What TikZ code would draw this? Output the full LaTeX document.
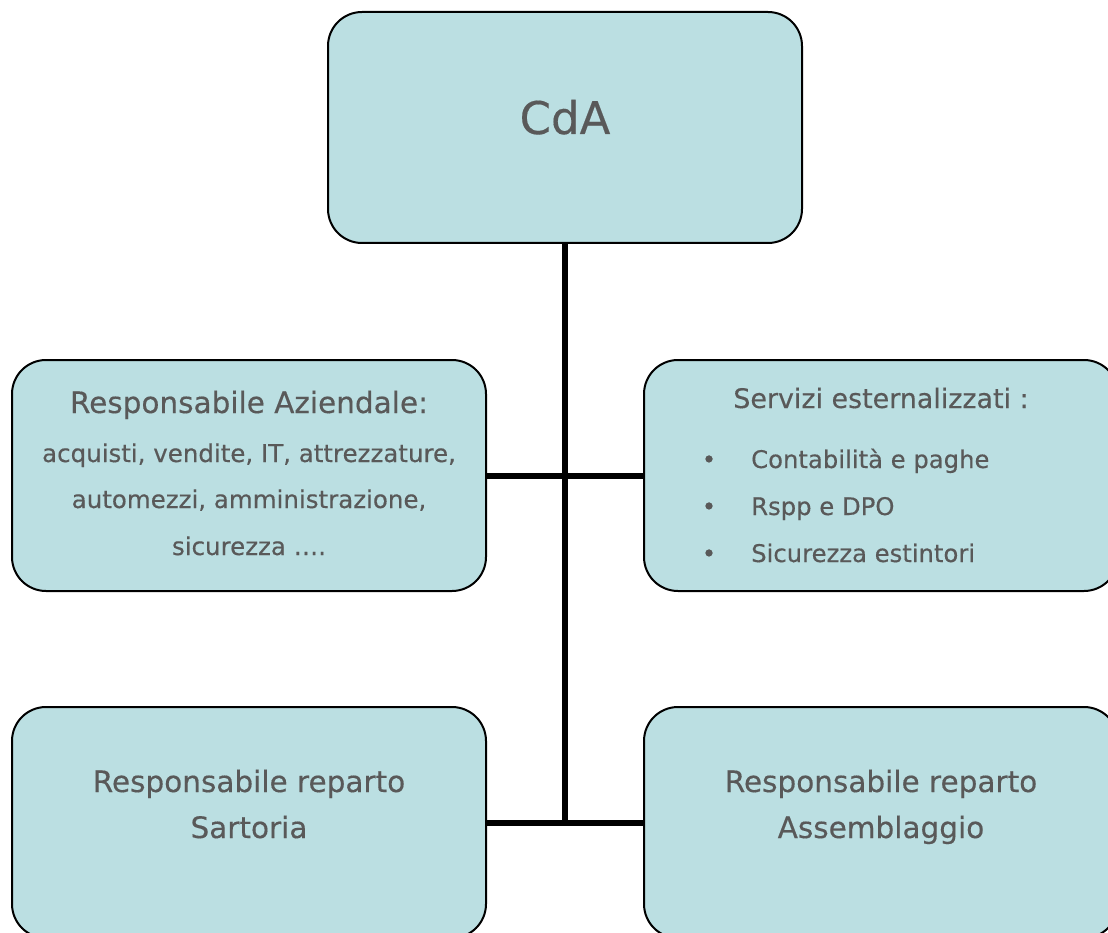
\documentclass[tikz,border=0pt]{standalone}
\usepackage{fontspec}
\setmainfont{DejaVu Sans}[FakeBold=0.35]
\definecolor{boxfill}{HTML}{BBDFE2}
\definecolor{txt}{HTML}{595959}
\tikzset{
  x=1pt, y=-1pt,
  orgbox/.style={draw=black, line width=2pt, fill=boxfill, rounded corners=34pt, inner sep=0pt},
  lbl/.style={anchor=base, text=txt, inner sep=0pt, font=\fontsize{#1}{#1}\selectfont},
  link/.style={draw=black, line width=6pt},
}
\begin{document}
\begin{tikzpicture}
\useasboundingbox (0,0) rectangle (1108,933);
\clip (0,0) rectangle (1108,933);
\node[orgbox, minimum width=474pt, minimum height=231pt] (cda) at (565,127.5) {};
\node[orgbox, minimum width=474pt, minimum height=231pt] (ra) at (249,475.5) {};
\node[orgbox, minimum width=474pt, minimum height=231pt] (se) at (881,475.5) {};
\node[orgbox, minimum width=474pt, minimum height=231pt] (rs) at (249,822.5) {};
\node[orgbox, minimum width=474pt, minimum height=231pt] (rass) at (881,822.5) {};
\coordinate (j) at (cda.south |- rs.east);
\draw[link] (cda.south) -- (j);
\draw[link] (ra.east) -- (se.west);
\draw[link] (rs.east) -- (rass.west);
% texts
\node[lbl=45] (t1) at (565,134) {CdA};
\node[lbl=29.5] (t2) at (249,413) {Responsabile Aziendale:};
\node[lbl=24.5] (t3) at (249,462) {acquisti, vendite, IT, attrezzature,};
\node[lbl=24.5] (t4) at (249,508) {automezzi, amministrazione,};
\node[lbl=24.5] (t5) at (249,555) {sicurezza ….};
\node[lbl=26.9] (t6) at (881,408) {Servizi esternalizzati :};
\node[lbl=24.3] (b1) at (709,468) {•};
\node[lbl=24.3] (b2) at (709,515) {•};
\node[lbl=24.3] (b3) at (709,562) {•};
\node[lbl=24.3, anchor=base west] (t7) at (751,468) {Contabilità e paghe};
\node[lbl=24.3, anchor=base west] (t8) at (751,515) {Rspp e DPO};
\node[lbl=24.3, anchor=base west] (t9) at (751,562) {Sicurezza estintori};
\node[lbl=29.5] (t10) at (249,792) {Responsabile reparto};
\node[lbl=29.5] (t11) at (249,838) {Sartoria};
\node[lbl=29.5] (t12) at (881,792) {Responsabile reparto};
\node[lbl=29.5] (t13) at (881,838) {Assemblaggio};
\end{tikzpicture}
\end{document}
